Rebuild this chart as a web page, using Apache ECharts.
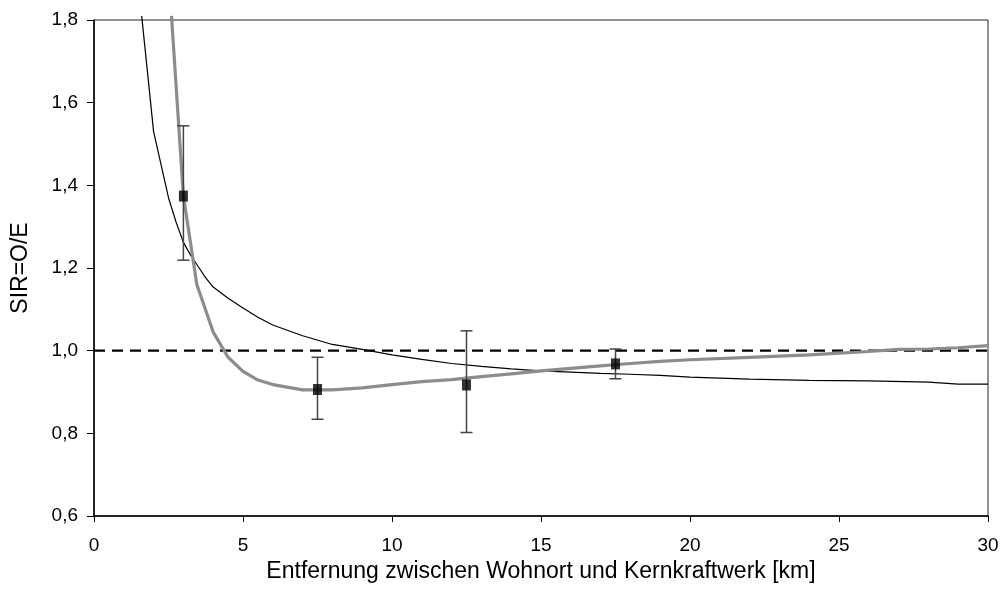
<!DOCTYPE html>
<html>
<head>
<meta charset="utf-8">
<style>
  html, body { margin: 0; padding: 0; background: #fff; }
  #chart { width: 1000px; height: 601px; }
</style>
<script src="https://cdn.jsdelivr.net/npm/echarts@6/dist/echarts.min.js"></script>
</head>
<body>
<div id="chart"></div>
<script>
// beobachtete SIR je Entfernungsklasse [km, SIR, unten, oben]
var obsX = [3, 7.5, 12.5, 17.5];
var obsSIR = [1.374, 0.906, 0.917, 0.968];
var obsLow = [1.219, 0.834, 0.802, 0.932];
var obsHigh = [1.544, 0.984, 1.048, 1.004];

// duenne schwarze Kurve
var thinCurve = [
  [1.6, 1.81], [2, 1.53], [2.5, 1.37], [2.75, 1.312], [3, 1.262], [3.25, 1.23],
  [3.5, 1.203], [3.75, 1.176], [4, 1.154], [4.5, 1.127], [5, 1.103], [5.5, 1.081],
  [6, 1.062], [7, 1.036], [8, 1.015], [9, 1.003], [10, 0.99],
  [11, 0.979], [12, 0.969], [13, 0.962], [14, 0.956], [15, 0.951], [16, 0.948],
  [17, 0.945], [18, 0.943], [19, 0.940], [20, 0.936], [22, 0.931], [24, 0.928],
  [26, 0.927], [28, 0.924], [29, 0.919], [30, 0.919]
];

// dicke graue Kurve
var thickCurve = [
  [2.6, 1.81], [3, 1.374], [3.45, 1.16], [4, 1.045], [4.5, 0.984], [5, 0.95],
  [5.5, 0.929], [6, 0.918], [7, 0.905], [8, 0.905], [9, 0.91], [10, 0.918],
  [11, 0.925], [12, 0.93], [13, 0.937], [14, 0.944], [15, 0.951], [16, 0.957],
  [17, 0.963], [18, 0.969], [19, 0.974], [20, 0.978], [22, 0.984], [24, 0.99],
  [26, 0.998], [27, 1.003], [28, 1.004], [29, 1.007], [30, 1.012]
];

var refLevel = 1.0;
var yTicks = ['0,6', '0,8', '1,0', '1,2', '1,4', '1,6', '1,8'];

var chart = echarts.init(document.getElementById('chart'));

var points = [];
var bars = [];
for (var i = 0; i < obsX.length; i++) {
  points.push([obsX[i], obsSIR[i]]);
  bars.push([obsX[i], obsLow[i], obsHigh[i]]);
}

var fontFam = 'Liberation Sans, Arial, sans-serif';

chart.setOption({
  backgroundColor: '#fff',
  animation: false,
  grid: {
    left: 94,
    right: 12,
    top: 20,
    bottom: 85,
    show: true,
    borderColor: '#222',
    borderWidth: 1,
    containLabel: false,
    outerBoundsMode: 'none'
  },
  xAxis: {
    type: 'value',
    min: 0,
    max: 30,
    interval: 5,
    name: 'Entfernung zwischen Wohnort und Kernkraftwerk [km]',
    nameLocation: 'middle',
    nameGap: 42,
    nameTextStyle: { color: '#000', fontSize: 23, fontFamily: fontFam },
    axisLine: { show: true, lineStyle: { color: '#000', width: 1.5 } },
    axisTick: { show: true, length: 6, lineStyle: { color: '#000' } },
    axisLabel: { color: '#000', fontSize: 19, fontFamily: fontFam, margin: 20 },
    splitLine: { show: false }
  },
  yAxis: {
    type: 'value',
    min: 0.6,
    max: 1.8,
    interval: 0.2,
    name: 'SIR=O/E',
    nameLocation: 'middle',
    nameGap: 62,
    nameTextStyle: { color: '#000', fontSize: 23, fontFamily: fontFam },
    axisLine: { show: true, lineStyle: { color: '#000', width: 1.5 } },
    axisTick: { show: true, length: 7, lineStyle: { color: '#000' } },
    axisLabel: {
      color: '#000', fontSize: 19, fontFamily: fontFam, margin: 16,
      formatter: function (v) {
        var idx = Math.round((v - 0.6) / 0.2);
        return yTicks[idx];
      }
    },
    splitLine: { show: false }
  },
  series: [
    {
      type: 'line',
      data: thinCurve,
      showSymbol: false,
      clip: false,
      lineStyle: { color: '#000', width: 1.2 },
      z: 3
    },
    {
      type: 'line',
      data: thickCurve,
      showSymbol: false,
      clip: false,
      lineStyle: { color: '#8c8c8c', width: 3.2 },
      z: 4
    },
    {
      type: 'line',
      data: [[0, refLevel], [30, refLevel]],
      showSymbol: false,
      lineStyle: { color: '#000', width: 2.2, type: [11, 7] },
      z: 2
    },
    {
      type: 'custom',
      data: bars,
      renderItem: function (params, api) {
        var x = api.value(0);
        var lo = api.coord([x, api.value(1)]);
        var hi = api.coord([x, api.value(2)]);
        var half = 6;
        var style = { stroke: '#444', lineWidth: 1.5 };
        return {
          type: 'group',
          children: [
            { type: 'line', shape: { x1: lo[0], y1: lo[1], x2: hi[0], y2: hi[1] }, style: style },
            { type: 'line', shape: { x1: lo[0] - half, y1: lo[1], x2: lo[0] + half, y2: lo[1] }, style: style },
            { type: 'line', shape: { x1: hi[0] - half, y1: hi[1], x2: hi[0] + half, y2: hi[1] }, style: style }
          ]
        };
      },
      z: 5
    },
    {
      type: 'scatter',
      data: points,
      symbol: 'rect',
      symbolSize: [9, 11],
      itemStyle: { color: '#000' },
      z: 6
    }
  ]
});
</script>
</body>
</html>
